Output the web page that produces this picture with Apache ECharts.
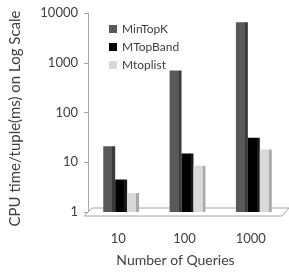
<!DOCTYPE html>
<html>
<head>
<meta charset="utf-8">
<script src="https://cdn.jsdelivr.net/npm/echarts@6/dist/echarts.min.js"></script>
<style>
  html, body { margin: 0; padding: 0; background: #fff; }
  #chart { width: 289px; height: 272px; }
</style>
</head>
<body>
<div id="chart"></div>
<script>
  // values
  var queries = ["10", "100", "1000"];
  var minTopK = [21, 700, 6500];
  var mTopBand = [4.5, 15, 31];
  var mToplist = [2.4, 8.5, 18];
  var yTicks = [1, 10, 100, 1000, 10000];

  var FONT = "Lato, 'Open Sans', sans-serif";

  // flat face + darker right side, poor man's 3D bar
  function face(front, side) {
    return {
      type: "linear", x: 0, y: 0, x2: 1, y2: 0,
      colorStops: [
        { offset: 0, color: front },
        { offset: 0.76, color: front },
        { offset: 0.76, color: side },
        { offset: 1, color: side }
      ]
    };
  }

  function barSeries(name, data, front, side) {
    return {
      name: name,
      type: "bar",
      data: data,
      barGap: "0%",
      barCategoryGap: "46%",
      z: 3,
      itemStyle: { color: face(front, side) }
    };
  }

  var chart = echarts.init(document.getElementById("chart"), null, { renderer: "canvas" });
  chart.setOption({
    animation: false,
    textStyle: { fontFamily: FONT },
    grid: { left: 85, right: 2, top: 13, bottom: 57 },
    legend: {
      orient: "vertical",
      left: 104,
      top: 18,
      itemWidth: 8,
      itemHeight: 8,
      itemGap: 6,
      icon: "rect",
      textStyle: { fontSize: 12, color: "#404040", fontFamily: FONT },
      data: [
        { name: "MinTopK", itemStyle: { color: "#595959" } },
        { name: "MTopBand", itemStyle: { color: "#000" } },
        { name: "Mtoplist", itemStyle: { color: "#d9d9d9" } }
      ]
    },
    // floor of the 3D plot area
    graphic: [{
      type: "polygon",
      z: 1,
      shape: { points: [[84, 216], [282, 216], [289, 208], [92, 208]] },
      style: { fill: "#fff", stroke: "#a6a6a6", lineWidth: 1 }
    }],
    xAxis: {
      type: "category",
      data: queries,
      name: "Number of Queries",
      nameLocation: "middle",
      nameGap: 41,
      nameTextStyle: { fontSize: 14, color: "#404040", padding: [0, 24, 0, 0] },
      axisLine: { show: false },
      axisTick: { show: false },
      axisLabel: { fontSize: 13, color: "#404040", margin: 20, padding: [0, 6, 0, 0] }
    },
    yAxis: {
      type: "log",
      logBase: 10,
      min: yTicks[0],
      max: yTicks[yTicks.length - 1],
      name: "CPU time/tuple(ms) on Log Scale",
      nameLocation: "middle",
      nameGap: 65,
      nameTextStyle: { fontSize: 15, color: "#404040", padding: [0, 12, 0, 0] },
      axisLine: { show: true, lineStyle: { color: "#a6a6a6" } },
      axisTick: { show: true, inside: false, length: 4, lineStyle: { color: "#a6a6a6" } },
      axisLabel: {
        fontSize: 13, color: "#404040", margin: 10,
        formatter: function (v) { return String(Math.round(v)); }
      },
      splitLine: { show: false }
    },
    series: [
      barSeries("MinTopK", minTopK, "#595959", "#3a3a3a"),
      barSeries("MTopBand", mTopBand, "#000000", "#1a1a1a"),
      barSeries("Mtoplist", mToplist, "#d9d9d9", "#a8a8a8")
    ]
  });
</script>
</body>
</html>
